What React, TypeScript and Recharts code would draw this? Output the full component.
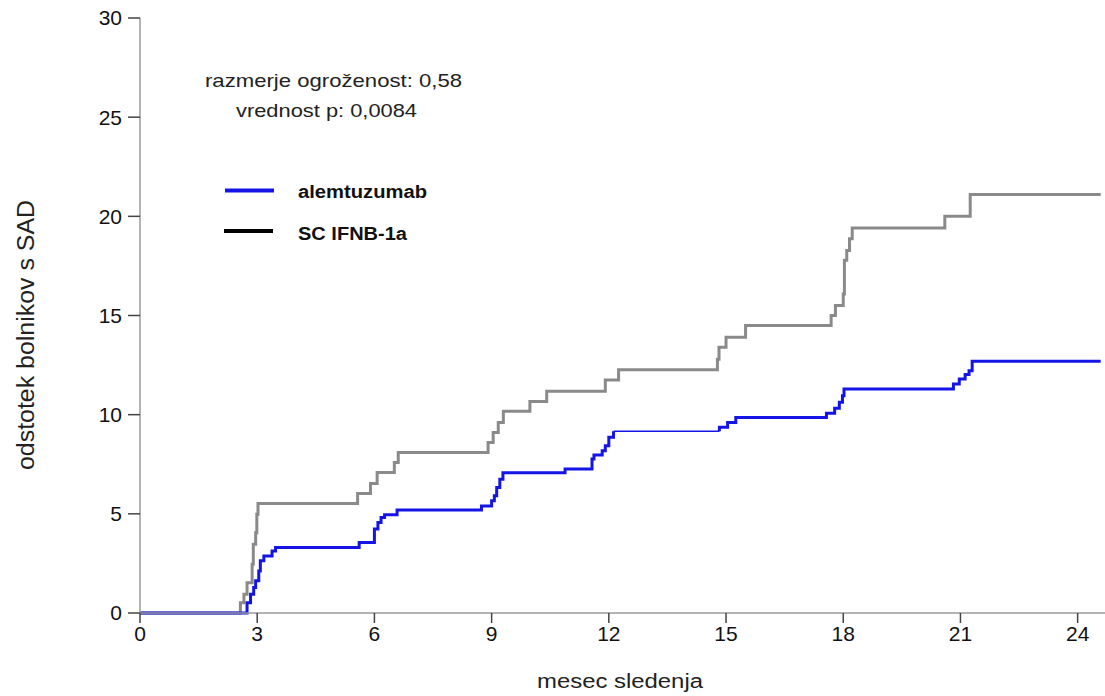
import React from "react";
import { LineChart, Line, XAxis, YAxis } from "recharts";

const xTicks = [0, 3, 6, 9, 12, 15, 18, 21, 24];
const yTicks = [0, 5, 10, 15, 20, 25, 30];

const ifnbMonths = [0, 2.57, 2.66, 2.74, 2.87, 2.9, 2.96, 2.99, 3.02, 5.57, 5.9, 6.07, 6.51, 6.61, 8.91, 9.04, 9.17, 9.3, 9.98, 10.41, 11.91, 12.25, 14.78, 14.82, 15.0, 15.5, 17.69, 17.8, 18.0, 18.03, 18.09, 18.16, 18.23, 20.6, 21.25, 24.59];
const ifnbValues = [0, 0.52, 0.94, 1.53, 2.46, 3.47, 4.05, 4.98, 5.52, 6.03, 6.53, 7.09, 7.59, 8.09, 8.6, 9.1, 9.6, 10.17, 10.67, 11.18, 11.75, 12.26, 12.8, 13.4, 13.9, 14.49, 15.0, 15.5, 16.09, 17.78, 18.28, 18.87, 19.41, 20.0, 21.1, 21.1];

const alemMonthsA = [0, 2.74, 2.83, 2.91, 2.96, 3.04, 3.08, 3.17, 3.38, 3.47, 5.61, 6.0, 6.09, 6.17, 6.26, 6.58, 8.74, 9.0, 9.07, 9.13, 9.21, 9.29, 10.88, 11.57, 11.62, 11.83, 11.91, 12.0, 12.12];
const alemValuesA = [0, 0.52, 0.94, 1.28, 1.62, 2.12, 2.63, 2.88, 3.13, 3.3, 3.55, 4.23, 4.56, 4.81, 4.96, 5.19, 5.4, 5.66, 5.91, 6.33, 6.75, 7.07, 7.26, 7.76, 7.97, 8.18, 8.43, 8.86, 9.16];
const alemMonthsThin = [12.12, 14.83];
const alemValuesThin = [9.16, 9.16];
const alemMonthsB = [14.83, 14.83, 15.04, 15.25, 17.57, 17.78, 17.9, 17.98, 18.02, 20.82, 20.97, 21.12, 21.22, 21.3, 24.59];
const alemValuesB = [9.16, 9.37, 9.61, 9.86, 10.07, 10.32, 10.62, 10.95, 11.3, 11.55, 11.8, 12.02, 12.22, 12.69, 12.69];

const legendLabels = ["alemtuzumab", "SC IFNB-1a"];
const annotation = ["razmerje ogroženost: 0,58", "vrednost p: 0,0084"];
const xLabel = "mesec sledenja";
const yLabel = "odstotek bolnikov s SAD";

const toRows = (xs: number[], ys: number[]) => xs.map((m, i) => ({ m, v: ys[i] }));

const ifnbData = toRows(ifnbMonths, ifnbValues);
const alemA = toRows(alemMonthsA, alemValuesA);
const alemThin = toRows(alemMonthsThin, alemValuesThin);
const alemB = toRows(alemMonthsB, alemValuesB);

const font = "'Liberation Sans', Arial, sans-serif";
const axisGray = "#9a9a9a";
const blue = "#1414e6";

export default function App() {
  return (
    <div style={{ position: "absolute", left: 0, top: 0, width: 1105, height: 696, background: "#fff", fontFamily: font }}>
      <LineChart width={1105} height={696} margin={{ top: 18, right: 0, bottom: 53, left: 0 }}>
        <XAxis
          dataKey="m"
          type="number"
          domain={[0, 24.7]}
          ticks={xTicks}
          allowDuplicatedCategory={false}
          height={30}
          tickSize={10}
          tickMargin={3}
          axisLine={{ stroke: axisGray, strokeWidth: 1.5 }}
          tickLine={{ stroke: "#444", strokeWidth: 1.5 }}
          tick={{ fill: "#111", fontSize: 21, fontFamily: font }}
          interval={0}
        />
        <YAxis
          type="number"
          domain={[0, 30]}
          ticks={yTicks}
          width={140}
          tickSize={12}
          tickMargin={6}
          axisLine={{ stroke: axisGray, strokeWidth: 1.5 }}
          tickLine={{ stroke: "#444", strokeWidth: 1.5 }}
          tick={{ fill: "#111", fontSize: 21, fontFamily: font }}
          interval={0}
        />
        <Line data={ifnbData} dataKey="v" type="stepAfter" stroke="#8a8a8a" strokeWidth={3} dot={false} isAnimationActive={false} />
        <Line data={alemThin} dataKey="v" type="stepAfter" stroke={blue} strokeWidth={1.5} dot={false} isAnimationActive={false} />
        <Line data={alemA} dataKey="v" type="stepAfter" stroke={blue} strokeWidth={3} dot={false} isAnimationActive={false} />
        <Line data={alemB} dataKey="v" type="stepAfter" stroke={blue} strokeWidth={3} dot={false} isAnimationActive={false} />
      </LineChart>
      <svg width={1105} height={696} style={{ position: "absolute", left: 0, top: 0, pointerEvents: "none" }}>
        <text x={205} y={87} fontSize={19} fill="#222" fontFamily={font} textLength={257} lengthAdjust="spacingAndGlyphs">{annotation[0]}</text>
        <text x={236} y={117} fontSize={19} fill="#222" fontFamily={font} textLength={181} lengthAdjust="spacingAndGlyphs">{annotation[1]}</text>
        <line x1={225} y1={190.5} x2={274} y2={190.5} stroke={blue} strokeWidth={4} />
        <text x={298} y={198} fontSize={18} fontWeight="bold" fill="#111" fontFamily={font} textLength={129} lengthAdjust="spacingAndGlyphs">{legendLabels[0]}</text>
        <line x1={224} y1={231} x2={273} y2={231} stroke="#000" strokeWidth={4} />
        <text x={298} y={240} fontSize={18} fontWeight="bold" fill="#111" fontFamily={font} textLength={109} lengthAdjust="spacingAndGlyphs">{legendLabels[1]}</text>
        <text x={537} y={688} fontSize={20} fill="#222" fontFamily={font} textLength={166} lengthAdjust="spacingAndGlyphs">{xLabel}</text>
        <text x={0} y={0} transform="translate(34,470) rotate(-90)" fontSize={23} fill="#222" fontFamily={font} textLength={270} lengthAdjust="spacingAndGlyphs">{yLabel}</text>
      </svg>
    </div>
  );
}
